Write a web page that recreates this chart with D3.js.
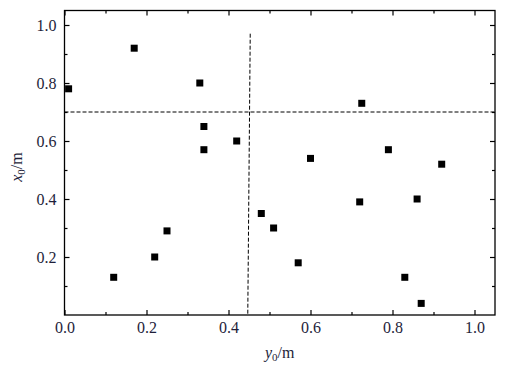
<!DOCTYPE html>
<html>
<head>
<meta charset="utf-8">
<script src="https://cdn.jsdelivr.net/npm/d3@7"></script>
<style>
  body { margin: 0; background: #fff; }
  svg text { font-family: "Liberation Serif", "DejaVu Serif", serif; fill: #1e1e3a; }
</style>
</head>
<body>
<svg id="chart"></svg>
<script>
// points: y0 (horizontal), x0 (vertical)
var y0Values = [0.01, 0.17, 0.33, 0.34, 0.34, 0.42, 0.12, 0.22, 0.25,
                0.48, 0.51, 0.57, 0.60, 0.72, 0.725, 0.79, 0.83, 0.86, 0.87, 0.92];
var x0Values = [0.78, 0.92, 0.80, 0.65, 0.57, 0.60, 0.13, 0.20, 0.29,
                0.35, 0.30, 0.18, 0.54, 0.39, 0.73, 0.57, 0.13, 0.40, 0.04, 0.52];
var majorTicks = [0, 0.2, 0.4, 0.6, 0.8, 1.0];
var minorTicks = [0.1, 0.3, 0.5, 0.7, 0.9];
var hLine = [[0, 0.70], [1.05, 0.70]];      // dashed x0 = 0.7
var vLine = [[0.453, 0.97], [0.447, 0]];    // dashed y0 ~ 0.45

var width = 508, height = 368;
var pLeft = 64.5, pRight = 495, pTop = 10.5, pBottom = 315;

var svg = d3.select("#chart")
    .attr("width", width)
    .attr("height", height);

var x = d3.scaleLinear().domain([0, 1.05]).range([pLeft, pRight]);
var y = d3.scaleLinear().domain([0, 1.05]).range([pBottom, pTop]);

// minor ticks first (no labels)
function minor(axis, tr) {
    svg.append("g")
        .attr("transform", tr)
        .call(axis.tickValues(minorTicks).tickSize(-3).tickFormat(""))
        .call(function (g) { g.select(".domain").remove(); });
}
minor(d3.axisBottom(x), "translate(0," + pBottom + ")");
minor(d3.axisTop(x), "translate(0," + pTop + ")");
minor(d3.axisLeft(y), "translate(" + pLeft + ",0)");
minor(d3.axisRight(y), "translate(" + pRight + ",0)");

var fmt = d3.format(".1f");
var gx = svg.append("g")
    .attr("transform", "translate(0," + pBottom + ")")
    .call(d3.axisBottom(x).tickValues(majorTicks).tickSize(-5).tickPadding(7).tickFormat(fmt));
var gy = svg.append("g")
    .attr("transform", "translate(" + pLeft + ",0)")
    .call(d3.axisLeft(y).tickValues(majorTicks.slice(1)).tickSize(-5).tickPadding(8).tickFormat(fmt));
svg.append("g")
    .attr("transform", "translate(0," + pTop + ")")
    .call(d3.axisTop(x).tickValues(majorTicks).tickSize(-5).tickFormat(""))
    .call(function (g) { g.select(".domain").remove(); });
svg.append("g")
    .attr("transform", "translate(" + pRight + ",0)")
    .call(d3.axisRight(y).tickValues(majorTicks.slice(1)).tickSize(-5).tickFormat(""))
    .call(function (g) { g.select(".domain").remove(); });

svg.selectAll(".tick text")
    .attr("font-size", "16px")
    .style("font-family", "Liberation Serif");
svg.selectAll(".tick line").attr("stroke", "#000").attr("stroke-width", 1.2);
gx.select(".domain").remove();
gy.select(".domain").remove();

// frame
svg.append("rect")
    .attr("x", pLeft).attr("y", pTop)
    .attr("width", pRight - pLeft).attr("height", pBottom - pTop)
    .attr("fill", "none")
    .attr("stroke", "#000")
    .attr("stroke-width", 1.3);

// dashed reference lines
var line = d3.line().x(function (d) { return x(d[0]); }).y(function (d) { return y(d[1]); });
[hLine, vLine].forEach(function (l) {
    svg.append("path")
        .attr("d", line(l))
        .attr("fill", "none")
        .attr("stroke", "#000")
        .attr("stroke-width", 1)
        .attr("stroke-dasharray", "4,2");
});

// points
var s = 7;
svg.selectAll(".pt")
    .data(y0Values)
    .enter()
    .append("rect")
    .attr("class", "pt")
    .attr("x", function (d) { return x(d) - s / 2; })
    .attr("y", function (d, i) { return y(x0Values[i]) - s / 2; })
    .attr("width", s)
    .attr("height", s)
    .attr("fill", "#000");

// axis titles
var xt = svg.append("text")
    .attr("x", (pLeft + pRight) / 2)
    .attr("y", 358)
    .attr("text-anchor", "middle")
    .attr("font-size", "16px");
xt.append("tspan").attr("font-style", "italic").text("y");
xt.append("tspan").attr("font-size", "11px").attr("dy", 3).text("0");
xt.append("tspan").attr("dy", -3).text("/m");

var yt = svg.append("text")
    .attr("transform", "translate(22,167) rotate(-90)")
    .attr("text-anchor", "middle")
    .attr("font-size", "16px");
yt.append("tspan").attr("font-style", "italic").text("x");
yt.append("tspan").attr("font-size", "11px").attr("dy", 3).text("0");
yt.append("tspan").attr("dy", -3).text("/m");
</script>
</body>
</html>
